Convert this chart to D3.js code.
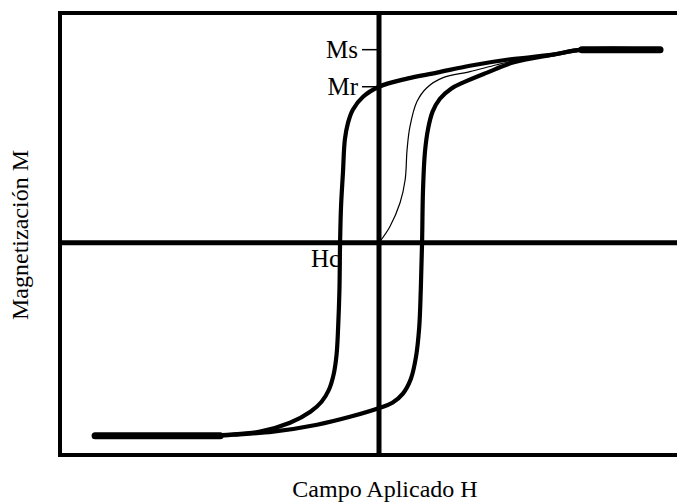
<!DOCTYPE html>
<html>
<head>
<meta charset="utf-8">
<script src="https://cdn.jsdelivr.net/npm/d3@7"></script>
<style>
  body { margin: 0; background: #fff; }
  svg { display: block; font-family: "Liberation Serif", "Times New Roman", serif; }
</style>
</head>
<body>
<svg id="chart" width="677" height="503"></svg>
<script>
// hysteresis loop, H in arbitrary units, M normalised to Ms = 1
const descending = [
  [8.81, 1.00], [6.36, 1.00], [5.45, 0.974], [4.01, 0.948], [2.85, 0.917],
  [1.82, 0.881], [0.88, 0.850], [0, 0.808], [-0.50, 0.756], [-0.82, 0.689],
  [-0.97, 0.622], [-1.07, 0.534], [-1.13, 0.363], [-1.19, 0.187], [-1.22, 0],
  [-1.24, -0.244], [-1.28, -0.435], [-1.33, -0.580], [-1.42, -0.681],
  [-1.57, -0.762], [-1.80, -0.824], [-2.15, -0.876], [-2.79, -0.933],
  [-3.73, -0.979], [-4.76, -0.995], [-5.39, -1.00], [-8.90, -1.00]
];
const ascending = [
  [-8.90, -1.00], [-4.98, -1.00], [-4.58, -0.995], [-3.32, -0.979],
  [-1.94, -0.943], [-0.91, -0.902], [0.03, -0.855], [0.42, -0.829],
  [0.75, -0.782], [1.00, -0.705], [1.16, -0.591], [1.26, -0.440],
  [1.31, -0.244], [1.35, 0], [1.38, 0.275], [1.44, 0.469], [1.54, 0.591],
  [1.68, 0.679], [1.91, 0.746], [2.26, 0.798], [2.63, 0.829],
  [3.39, 0.881], [4.20, 0.933], [5.45, 0.974], [6.36, 1.00], [8.81, 1.00]
];
const virgin = [
  [0, 0], [0.34, 0.083], [0.66, 0.207], [0.82, 0.326], [0.88, 0.482],
  [0.97, 0.601], [1.19, 0.731], [1.50, 0.803], [2.01, 0.855], [2.85, 0.886],
  [3.70, 0.922], [4.42, 0.948], [5.45, 0.974]
];
const satTop = [[6.36, 1.00], [8.81, 1.00]];
const satBottom = [[-8.90, -1.00], [-4.98, -1.00]];

const Ms = 1.00, Mr = 0.808, Hc = -1.22;
const xTitle = "Campo Aplicado H";
const yTitle = "Magnetización M";

const svg = d3.select('#chart');

const x = d3.scaleLinear().domain([-10, 10]).range([60, 698]);
const y = d3.scaleLinear().domain([-1.10, 1.19]).range([455, 13]);

const line = d3.line()
  .x(d => x(d[0]))
  .y(d => y(d[1]))
  .curve(d3.curveCatmullRom.alpha(0.5));

// frame (right side runs off the picture)
svg.append('rect')
  .attr('x', x(-10)).attr('y', y(1.19))
  .attr('width', x(10) - x(-10)).attr('height', y(-1.10) - y(1.19))
  .attr('fill', 'none').attr('stroke', '#000').attr('stroke-width', 4);

// axes through the origin
svg.append('line')
  .attr('x1', x(-10)).attr('x2', x(10))
  .attr('y1', y(0)).attr('y2', y(0))
  .attr('stroke', '#000').attr('stroke-width', 5);
svg.append('line')
  .attr('x1', x(0)).attr('x2', x(0))
  .attr('y1', y(1.19)).attr('y2', y(-1.10))
  .attr('stroke', '#000').attr('stroke-width', 5);

// curves
svg.append('path').datum(virgin)
  .attr('d', line).attr('fill', 'none')
  .attr('stroke', '#000').attr('stroke-width', 1.2);
[descending, ascending].forEach(c => {
  svg.append('path').datum(c)
    .attr('d', line).attr('fill', 'none')
    .attr('stroke', '#000').attr('stroke-width', 4.2)
    .attr('stroke-linecap', 'round');
});
[satTop, satBottom].forEach(c => {
  svg.append('path').datum(c)
    .attr('d', d3.line().x(d => x(d[0])).y(d => y(d[1])))
    .attr('fill', 'none')
    .attr('stroke', '#000').attr('stroke-width', 7)
    .attr('stroke-linecap', 'round');
});

// Ms / Mr markers
[[Ms, 'Ms'], [Mr, 'Mr']].forEach(([m, name]) => {
  svg.append('line')
    .attr('x1', x(0) - 17).attr('x2', x(0) - 2)
    .attr('y1', y(m)).attr('y2', y(m))
    .attr('stroke', '#000').attr('stroke-width', 1.5);
  svg.append('text')
    .attr('x', x(0) - 21).attr('y', y(m) + 8)
    .attr('text-anchor', 'end')
    .style('font-size', '25px')
    .text(name);
});

svg.append('text')
  .attr('x', x(Hc)).attr('y', y(0) + 24)
  .attr('text-anchor', 'end')
  .style('font-size', '25px')
  .text('Hc');

// axis titles
svg.append('text')
  .attr('x', 385).attr('y', 497)
  .attr('text-anchor', 'middle')
  .style('font-size', '24px')
  .text(xTitle);
svg.append('text')
  .attr('transform', 'translate(28,235) rotate(-90)')
  .attr('text-anchor', 'middle')
  .style('font-size', '24px')
  .text(yTitle);
</script>
</body>
</html>
